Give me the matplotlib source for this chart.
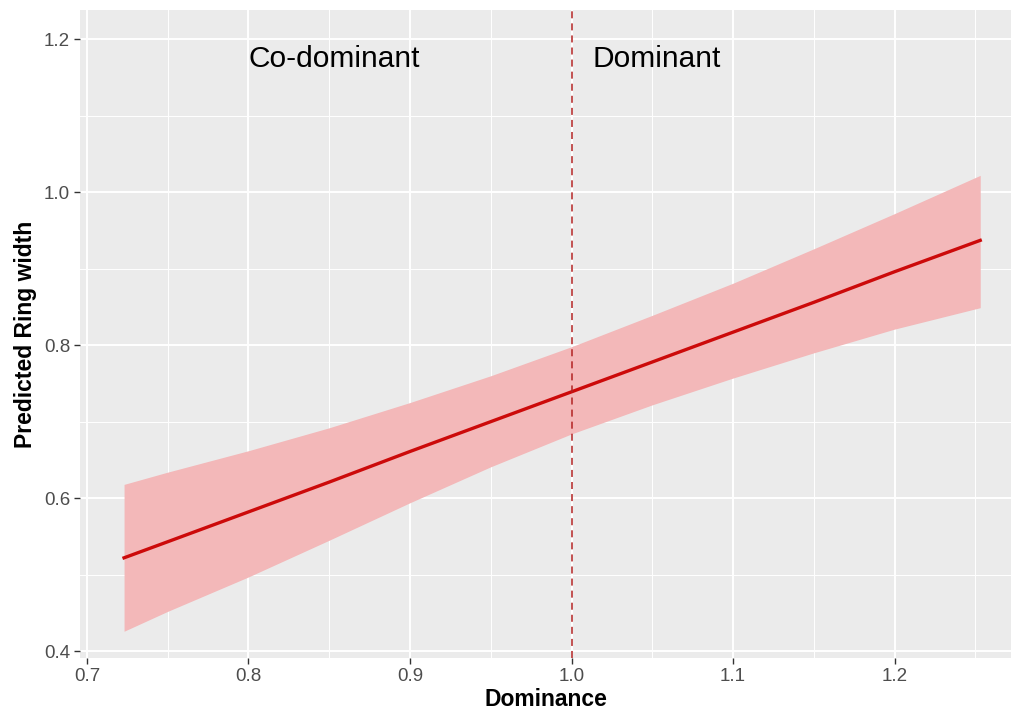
import numpy as np
import matplotlib
matplotlib.use("Agg")
from matplotlib import pyplot as plt

plt.rcParams['font.family'] = ['Liberation Sans', 'DejaVu Sans']

# values
dominance = [0.723, 0.75, 0.8, 0.85, 0.9, 0.95, 1.0, 1.05, 1.1, 1.15, 1.2, 1.253]
predicted = [0.522, 0.543, 0.582, 0.621, 0.661, 0.700, 0.739, 0.778, 0.817, 0.856, 0.896, 0.937]
upper = [0.618, 0.634, 0.662, 0.692, 0.725, 0.760, 0.798, 0.839, 0.881, 0.926, 0.972, 1.022]
lower = [0.426, 0.452, 0.497, 0.545, 0.594, 0.641, 0.684, 0.722, 0.757, 0.790, 0.821, 0.849]
x_ticks = [0.7, 0.8, 0.9, 1.0, 1.1, 1.2]
y_ticks = [0.4, 0.6, 0.8, 1.0, 1.2]
threshold = 1.0

fig = plt.figure(figsize=(10.16, 7.22), dpi=100)
ax = fig.add_axes([0.0787, 0.0886, 0.9163, 0.8974])
ax.set_facecolor("#ebebeb")

ax.fill_between(dominance, lower, upper, color="#f3b8b9", lw=0, zorder=2)
ax.plot(dominance, predicted, color="#cc0a0a", lw=2.4, zorder=3)
ax.axvline(threshold, color="#b22222", lw=1.1, ls=(0, (4.6, 3.3)), zorder=4)

ax.text(0.853, 1.163, "Co-dominant", fontsize=21.5, ha="center", va="baseline")
ax.text(1.053, 1.163, "Dominant", fontsize=21.5, ha="center", va="baseline")

ax.set_xlim(0.6957, 1.272)
ax.set_ylim(0.391, 1.238)
ax.set_xticks(x_ticks)
ax.set_yticks(y_ticks)
ax.set_xticks(np.arange(0.75, 1.27, 0.1), minor=True)
ax.set_yticks([0.5, 0.7, 0.9, 1.1], minor=True)
ax.grid(which="major", color="white", lw=1.4, zorder=1)
ax.grid(which="minor", color="white", lw=0.7, zorder=1)
ax.set_axisbelow(True)
for s in ax.spines.values():
    s.set_visible(False)
ax.tick_params(which="major", length=4, width=1, color="#333333", pad=3,
               labelsize=13.5, labelcolor="#4d4d4d")
ax.tick_params(which="minor", length=0)

ax.set_xlabel("Dominance", fontsize=16.5, fontweight="bold", labelpad=2)
ax.set_ylabel("Predicted Ring width", fontsize=16.5, fontweight="bold", labelpad=5)

fig.savefig("out.png", dpi=100)
